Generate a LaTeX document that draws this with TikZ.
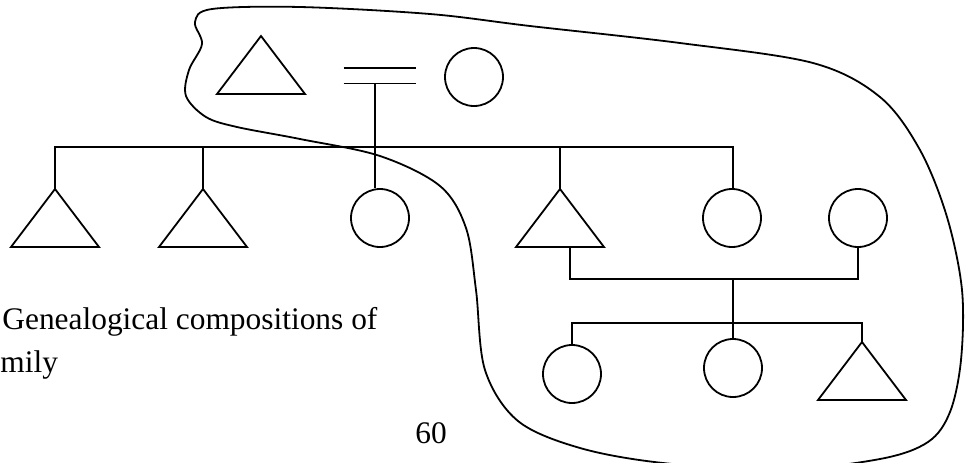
\documentclass[tikz,border=0pt]{standalone}
\usepackage{fontspec}
\setmainfont{Liberation Serif}
\usepackage{tikz}
\usetikzlibrary{calc}

\tikzset{
  kin/.style={line width=0.9pt},
  female/.style={draw, circle, line width=0.9pt, minimum size=29pt, inner sep=0pt},
  pics/male/.style={code={
    \draw[kin] (-44,58) -- (0,0) -- (44,58) -- cycle;
    \coordinate (-apex) at (0,0);
    \coordinate (-base) at (0,58);
  }},
  caption/.style={anchor=base west, inner sep=0pt, font=\fontsize{15.7}{19}\selectfont}
}

\begin{document}
\begin{tikzpicture}[x=0.5pt,y=-0.5pt]
\clip (0,0) rectangle (965,462);

% the parents
\pic (m0) at (261,36) {male};
\node[female] (f0) at (474,77) {};
\node (mar) at (380,75.5) [minimum width=36pt, minimum height=7.5pt, inner sep=0pt] {};
\draw[kin] (mar.north west) -- (mar.north east);
\draw[kin] (mar.south west) -- (mar.south east);

% the children
\pic (m1) at (55,189) {male};
\pic (m2) at (203,189) {male};
\node[female] (f3) at (380,218) {};
\pic (m4) at (560,189) {male};
\node[female] (f5) at (732,218) {};
\node[female] (f6) at (858,218) {};

% the grandchildren
\node[female] (f7) at (572,374) {};
\node[female] (f8) at (733,368) {};
\pic (m9) at (862,342) {male};

% sibling bars
\coordinate (bar1) at (0,147);
\coordinate (bar2) at (0,279);
\coordinate (bar3) at (0,323);
\coordinate (m4foot) at ([xshift=5pt]m4-base);

\draw[kin] ([xshift=-2.5pt]mar.south) -- ([xshift=-2.5pt]mar.south |- bar1);
\draw[kin] (m1-apex) -- (m1-apex |- bar1) -- ([xshift=0.5pt]f5.north |- bar1) -- ([xshift=0.5pt]f5.north);
\draw[kin] (m2-apex) -- (m2-apex |- bar1);
\draw[kin] ([xshift=-2.5pt]f3.north) -- ([xshift=-2.5pt]f3.north |- bar1);
\draw[kin] (m4-apex) -- (m4-apex |- bar1);

% the marriage below
\draw[kin] (m4foot) -- (m4foot |- bar2) -| (f6.south);
\draw[kin] (f8.north) -- (f8.north |- bar2);
\draw[kin] (f7.north) -- (f7.north |- bar3) -- (m9-apex |- bar3) -- (m9-apex);

% the group that is outlined
\draw[kin] plot[smooth cycle, tension=0.55] coordinates {
  (212,9) (300,7) (430,14) (530,26) (680,43) (813,63) (880,97) (920,150)
  (947,217) (962,290) (961,360) (950,412) (928,442) (880,459) (780,470)
  (663,463) (580,448) (518,421) (485,370) (476,290) (466,228) (440,186)
  (380,156) (300,139) (237,127) (206,117) (186,96) (189,70) (202,44)
  (195,22)};

% text
\node[caption] (txt1) at (2,329) {Genealogical compositions of};
\node[caption] (txt2) at (0,372) {mily};
\node[caption] (page) at (415,443) {60};

\end{tikzpicture}
\end{document}
